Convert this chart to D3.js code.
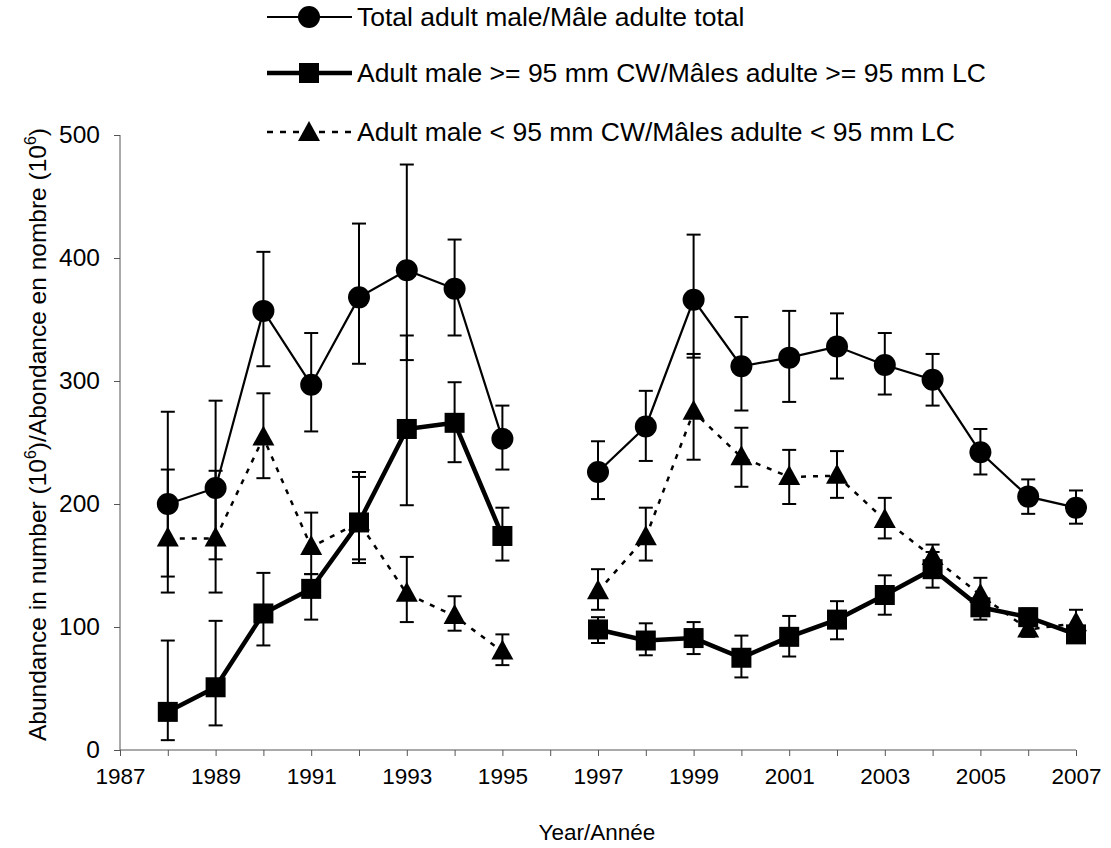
<!DOCTYPE html>
<html>
<head>
<meta charset="utf-8">
<script src="https://cdn.jsdelivr.net/npm/d3@7"></script>
<style>
  body { margin: 0; background: #fff; }
  text { font-family: "Liberation Sans", Arial, sans-serif; fill: #000; }
</style>
</head>
<body>
<div id="chart"></div>
<script>
// years; 1996 has no survey, null breaks the lines
const years = [1988, 1989, 1990, 1991, 1992, 1993, 1994, 1995, 1996,
  1997, 1998, 1999, 2000, 2001, 2002, 2003, 2004, 2005, 2006, 2007];

const total   = [200, 213, 357, 297, 368, 390, 375, 253, null, 226, 263, 366, 312, 319, 328, 313, 301, 242, 206, 197];
const totalHi = [275, 284, 405, 339, 428, 476, 415, 280, null, 251, 292, 419, 352, 357, 355, 339, 322, 261, 220, 211];
const totalLo = [128, 128, 312, 259, 314, 317, 337, 228, null, 204, 235, 319, 276, 283, 302, 289, 280, 224, 192, 184];

const large   = [31, 51, 111, 131, 185, 261, 266, 174, null, 98, 89, 91, 75, 92, 106, 126, 147, 116, 108, 94];
const largeHi = [89, 105, 144, 143, 226, 337, 299, 197, null, 108, 103, 104, 93, 109, 121, 142, 161, 124, 115, 100];
const largeLo = [8, 20, 85, 106, 152, 199, 234, 154, null, 87, 77, 78, 59, 76, 90, 110, 132, 106, 101, 88];

const small   = [172, 172, 254, 165, 185, 127, 109, 80, null, 129, 173, 275, 238, 222, 223, 187, 157, 126, 98, 103];
const smallHi = [228, 227, 290, 193, 222, 157, 125, 94, null, 147, 197, 322, 262, 244, 243, 205, 167, 140, 104, 114];
const smallLo = [141, 155, 221, 143, 155, 104, 97, 69, null, 114, 154, 236, 214, 200, 205, 172, 148, 112, 92, 95];

const yTicks = [0, 100, 200, 300, 400, 500];
const xLabelYears = [1987, 1989, 1991, 1993, 1995, 1997, 1999, 2001, 2003, 2005, 2007];

const legendLabels = [
  'Total adult male/Mâle adulte total',
  'Adult male >= 95 mm CW/Mâles adulte >= 95 mm LC',
  'Adult male < 95 mm CW/Mâles adulte < 95 mm LC'
];

const width = 1111, height = 848;
const svg = d3.select('#chart').append('svg')
  .attr('width', width).attr('height', height);

const x = d3.scaleLinear().domain([1987, 2007]).range([120, 1076]);
const y = d3.scaleLinear().domain([0, 500]).range([750, 135]);

// axes
const xAxis = d3.axisBottom(x)
  .tickValues(d3.range(1987, 2008))
  .tickSize(6)
  .tickFormat(d => xLabelYears.includes(d) ? String(d) : '');
const gx = svg.append('g').attr('transform', `translate(0,${y(0)})`).call(xAxis);
gx.select('.domain').attr('stroke', '#555').attr('d', `M${x(1987)},0H${x(2007)}`);
gx.selectAll('.tick line').attr('stroke', '#555');
gx.selectAll('.tick text').attr('font-size', 22.5).attr('dy', '1.1em');

const yAxis = d3.axisLeft(y).tickValues(yTicks).tickSize(6).tickPadding(14);
const gy = svg.append('g').attr('transform', `translate(${x(1987)},0)`).call(yAxis);
gy.select('.domain').attr('stroke', '#555').attr('d', `M0,${y(0)}V${y(500)}`);
gy.selectAll('.tick line').attr('stroke', '#555');
gy.selectAll('.tick text').attr('font-size', 24.5);

svg.append('text')
  .attr('x', 597).attr('y', 840)
  .attr('text-anchor', 'middle').attr('font-size', 22.5)
  .text('Year/Année');

const yTitle = svg.append('text')
  .attr('transform', `translate(46,${y(250) - 8}) rotate(-90)`)
  .attr('text-anchor', 'middle').attr('font-size', 24.5);
yTitle.append('tspan').text('Abundance in number (10');
yTitle.append('tspan').attr('font-size', 16).attr('dy', -10).text('6');
yTitle.append('tspan').attr('dy', 10).text(')/Abondance en nombre (10');
yTitle.append('tspan').attr('font-size', 16).attr('dy', -10).text('6');
yTitle.append('tspan').attr('dy', 10).text(')');

const rows = years.map((yr, i) => ({yr, i}));

const series = [
  {vals: total, hi: totalHi, lo: totalLo, shape: 'circle', width: 2.2, dash: null},
  {vals: small, hi: smallHi, lo: smallLo, shape: 'triangle', width: 2.5, dash: '5,7'},
  {vals: large, hi: largeHi, lo: largeLo, shape: 'square', width: 4.5, dash: null}
];

function drawMarker(g, shape, cx, cy) {
  if (shape === 'circle') {
    g.append('circle').attr('cx', cx).attr('cy', cy).attr('r', 11).attr('fill', '#000');
  } else if (shape === 'square') {
    g.append('rect').attr('x', cx - 10).attr('y', cy - 10)
      .attr('width', 20).attr('height', 20).attr('fill', '#000');
  } else {
    g.append('path')
      .attr('d', `M${cx},${cy - 12}L${cx + 11},${cy + 8}L${cx - 11},${cy + 8}Z`)
      .attr('fill', '#000');
  }
}

const line = d3.line()
  .defined(d => d.v != null)
  .x(d => x(d.yr))
  .y(d => y(d.v));

series.forEach(s => {
  const g = svg.append('g');
  const pts = rows.map(r => ({yr: r.yr, v: s.vals[r.i], hi: s.hi[r.i], lo: s.lo[r.i]}));

  g.append('path')
    .datum(pts)
    .attr('d', line)
    .attr('fill', 'none')
    .attr('stroke', '#000')
    .attr('stroke-width', s.width)
    .attr('stroke-dasharray', s.dash);

  const bars = pts.filter(p => p.v != null);
  g.selectAll('line.err').data(bars).join('line')
    .attr('class', 'err')
    .attr('x1', d => x(d.yr)).attr('x2', d => x(d.yr))
    .attr('y1', d => y(d.hi)).attr('y2', d => y(d.lo))
    .attr('stroke', '#000').attr('stroke-width', 2);
  ['hi', 'lo'].forEach(k => {
    g.selectAll(`line.cap-${k}`).data(bars).join('line')
      .attr('class', `cap-${k}`)
      .attr('x1', d => x(d.yr) - 7).attr('x2', d => x(d.yr) + 7)
      .attr('y1', d => y(d[k])).attr('y2', d => y(d[k]))
      .attr('stroke', '#000').attr('stroke-width', 2);
  });

  bars.forEach(d => drawMarker(g, s.shape, x(d.yr), y(d.v)));
});

// legend
const legendOrder = [
  {shape: 'circle', width: 2.2, dash: null},
  {shape: 'square', width: 4.5, dash: null},
  {shape: 'triangle', width: 2.5, dash: '6,7'}
];
const legendY = [17, 73, 132];
legendOrder.forEach((s, i) => {
  const g = svg.append('g');
  g.append('line')
    .attr('x1', 267).attr('x2', 352)
    .attr('y1', legendY[i]).attr('y2', legendY[i])
    .attr('stroke', '#000').attr('stroke-width', s.width)
    .attr('stroke-dasharray', s.dash);
  drawMarker(g, s.shape, 309, legendY[i] + (s.shape === 'triangle' ? 1 : 0));
  g.append('text')
    .attr('x', 357).attr('y', legendY[i] + 9)
    .attr('font-size', 26.5)
    .text(legendLabels[i]);
});
</script>
</body>
</html>
